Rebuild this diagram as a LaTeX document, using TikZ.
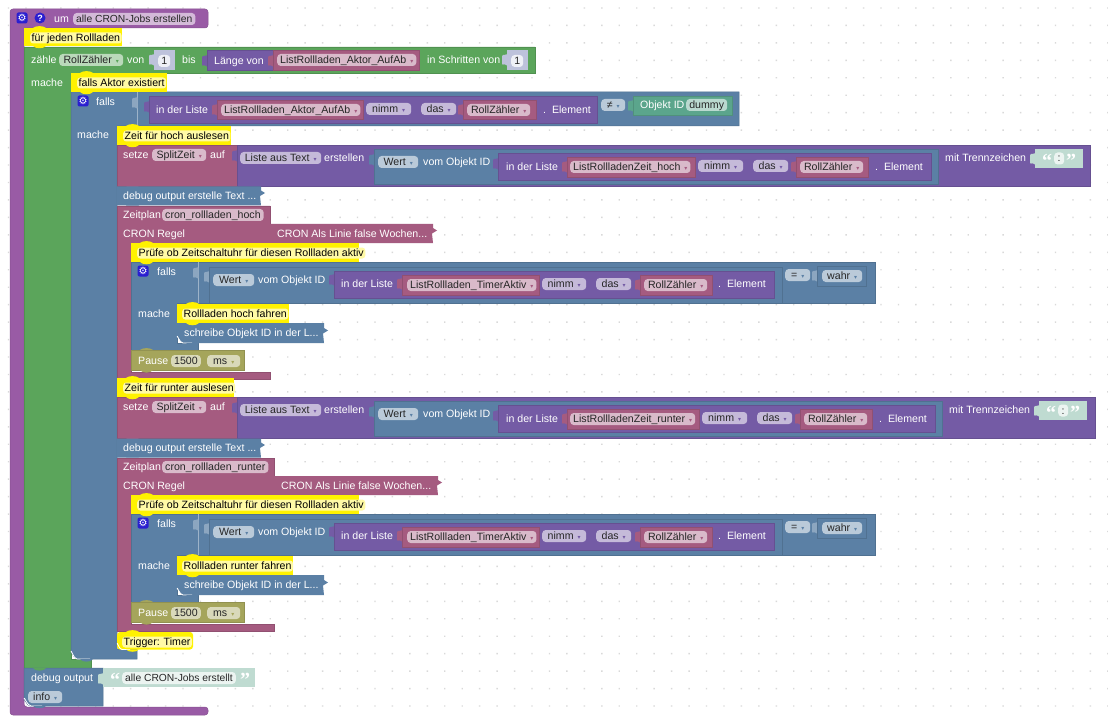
\documentclass[tikz,border=0pt]{standalone}
\usepackage{fontspec}
\setmainfont{Liberation Sans}
\newfontfamily\symfont{DejaVu Sans}
\newfontfamily\quotefont{Liberation Serif}
\definecolor{fnpurple}{HTML}{995BA5}
\definecolor{loopgreen}{HTML}{5BA55B}
\definecolor{logicblue}{HTML}{5B80A5}
\definecolor{listviolet}{HTML}{745BA5}
\definecolor{varred}{HTML}{A55B80}
\definecolor{idgreen}{HTML}{5BA58C}
\definecolor{pauseolive}{HTML}{A5A55B}
\definecolor{mathgrey}{HTML}{BDC2DB}
\definecolor{strgreen}{HTML}{BFDBD1}
\definecolor{iconblue}{HTML}{2A1FD0}
\newcommand{\arr}{{\symfont\fontsize{6}{6}\selectfont\hspace{4pt}\textcolor{\pc}{▾}}}
\newcommand{\notch}[4]{\fill[#4] (#1+9,#2) .. controls (#1+11,#2+#3) and (#1+20,#2+#3) .. (#1+22,#2);}
\newcommand{\vtab}[3]{\fill[#3,rounded corners=1pt] (#1+0.5,#2) -- (#1-2.5,#2+1) -- (#1-5,#2+1) -- (#1-5,#2+11) -- (#1-2.5,#2+10) -- (#1+0.5,#2+12) -- cycle;}
\newcommand{\jag}[2]{(#1-3,#2) -- (#1-3,#2+4) -- (#1+1,#2+6.5) -- (#1-4,#2+9.5) -- (#1-3,#2+19)}
\tikzset{
 block/.style={fill=#1,draw=#1!88!black,line width=.5pt},
 note/.style={fill=yellow},
 hilite/.style={draw=white,line width=.8pt},
 lbl/.style={anchor=west,inner sep=0pt,text=white,text height=9pt,text depth=2pt},
 pill/.style={anchor=west,inner xsep=3pt,inner ysep=.5pt,text=black!85,fill=#1!42!white,
  rounded corners=3.5pt,text height=9pt,text depth=2pt,execute at begin node={\def\pc{#1}}},
 rollz/.style={pill=varred,minimum width=63pt},
 nimmf/.style={pill=listviolet,minimum width=45pt},
 dasf/.style={pill=listviolet,minimum width=35pt},
 wertf/.style={pill=logicblue,minimum width=40pt},
 quot/.style={anchor=west,inner sep=0pt,text=white,font=\quotefont\bfseries\fontsize{20}{20}\selectfont},
 notetext/.style={anchor=west,inner xsep=1.5pt,inner ysep=0pt,text=black,fill=yellow!35!white,
  rounded corners=3pt,text height=9pt,text depth=2pt},
 icon/.style={fill=iconblue,text=white,inner sep=0pt,rounded corners=2pt,minimum size=11pt}
}
\begin{document}
\begin{tikzpicture}[
 x=1pt,y=-1pt,
 every node/.style={font=\fontsize{10.6}{13}\selectfont}
]
 \useasboundingbox (0,0) rectangle (1108,722);
 \fill[white] (0,0) rectangle (1108,722);
 % workspace dots
 \fill[black!15] foreach \i in {0,...,63} { foreach \j in {0,...,41}
  { (8.5+17.45*\i-.7,8+17.45*\j-.7) rectangle ++(1.4,1.4) } };

 % outer function block
 \draw[block=fnpurple,rounded corners=3pt] (10,9) -- (208,9) -- (208,28) -- (24,28) -- (24,707)
  -- (208,707) -- (208,715) -- (10,715) -- cycle;
 \node[icon] (gearFn) at (22,18) {\symfont\fontsize{10}{10}\selectfont ⚙};
 \node[icon,circle] (helpFn) at (40,18) {\bfseries\fontsize{9}{9}\selectfont ?};
 \node[lbl] (umLbl) at (54,19) {um};
 \node[pill=fnpurple,minimum width=121pt,font=\fontsize{10.3}{13}\selectfont] (umName) at (73,19) {alle CRON-Jobs erstellen};

 % counting loop
 \draw[block=loopgreen] (24,47) -- (535,47) -- (535,73) -- (71,73) -- (71,659) -- (91,659)
  -- (91,668) -- (24,668) -- cycle;
 \node[lbl] (zaehleLbl) at (31,60) {zähle};
 \node[pill=loopgreen,minimum width=64pt] (zaehleVar) at (59,60) {RollZähler\arr};
 \node[lbl] (vonLbl) at (127,60) {von};
 \vtab{154}{54}{mathgrey}
 \fill[mathgrey] (154,50) rectangle (175,70);
 \node[pill=white,fill=white!75!mathgrey,minimum width=12pt] (vonNum) at (158,61) {1};
 \node[lbl] (bisLbl) at (182,60) {bis};
 \vtab{207}{55}{listviolet}
 \draw[block=listviolet] (207,50) rectangle (273,70);
 \node[lbl] (laengeLbl) at (214,61) {Länge von};
 \vtab{273}{55}{varred}
 \draw[block=varred] (273,50) rectangle (419,70);
 \node[pill=varred,minimum width=137pt] (laengeVar) at (277,60) {ListRollladen\_Aktor\_AufAb\arr};
 \node[lbl] (schritteLbl) at (427,60) {in Schritten von};
 \vtab{507}{54}{mathgrey}
 \fill[mathgrey] (507,50) rectangle (528,70);
 \node[pill=white,fill=white!75!mathgrey,minimum width=12pt] (schritteNum) at (511,61) {1};
 \node[lbl] (macheOuter) at (31,83) {mache};

 % falls Aktor existiert
 \draw[block=logicblue,rounded corners=0pt] (71,92) -- (739,92) -- (739,126) -- (117,126)
  -- (117,649) -- (137,649) -- (137,659) -- (77,659) to[out=180,in=90] (71,653) -- cycle;
 \draw[hilite] (71,652) to[out=90,in=180] (77,659) -- (90,659);
 \notch{71}{659}{3.5}{logicblue}
 \draw[logicblue!60!white,line width=.6pt] (137,92) -- (137,126);
 \vtab{137}{97}{logicblue!70!white}
 \node[icon] (gearIf) at (83,101) {\symfont\fontsize{10}{10}\selectfont ⚙};
 \node[lbl] (fallsTop) at (96,102) {falls};
 \node[lbl] (macheTop) at (77,135) {mache};
 \vtab{149}{101}{listviolet}
 \draw[block=listviolet] (149,96) rectangle (597,123);
 \node[lbl] (listeTop) at (156,110) {in der Liste};
 \vtab{217}{104}{varred}
 \draw[block=varred] (217,100) rectangle (363,119);
 \node[pill=varred,minimum width=137pt] (listTop) at (221,110) {ListRollladen\_Aktor\_AufAb\arr};
 \node[nimmf] (nimmTop) at (366,109) {nimm\arr};
 \node[dasf] (dasTop) at (421,109) {das\arr};
 \vtab{463}{104}{varred}
 \draw[block=varred] (463,100) rectangle (536,119);
 \node[rollz] (rollTop) at (467,110) {RollZähler\arr};
 \node[lbl] (elemTop) at (543,110) {.\ \ Element};
 \node[pill=logicblue,minimum width=24pt] (neqTop) at (601,105) {≠\arr};
 \vtab{633}{100}{idgreen}
 \draw[block=idgreen] (633,96) rectangle (732,115);
 \node[lbl] (objTop) at (640,105) {Objekt ID};
 \node[pill=idgreen,minimum width=41pt] (dummyTop) at (686,105) {dummy};

 \foreach \sec/\dy/\xa/\fahrt in {hoch/0/0/hoch,runter/252/4/runter} {
 \begin{scope}[shift={(0,\dy)}]
  % split time
  \draw[block=varred] (117,145) rectangle (237,186.5);
  \node[lbl] (setze\sec) at (123,155) {setze};
  \node[pill=varred,minimum width=54pt] (split\sec) at (152,155) {SplitZeit\arr};
  \node[lbl] (auf\sec) at (210,155) {auf};
  \vtab{237}{150}{listviolet}
  \draw[block=listviolet] (237,145) rectangle (1090+\xa+\xa/4,186.5);
  \node[pill=listviolet,minimum width=81pt] (teil\sec) at (240,158) {Liste aus Text\arr};
  \node[lbl] (erst\sec) at (324,158) {erstellen};
  \vtab{374}{154}{logicblue}
  \draw[block=logicblue] (374,149) rectangle (938+\xa,184);
  \node[wertf] (wert\sec) at (378,162) {Wert\arr};
  \node[lbl] (vom\sec) at (423,162) {vom Objekt ID};
  \vtab{498}{158}{listviolet}
  \draw[block=listviolet] (498,153) rectangle (931+\xa,180);
  \node[lbl] (liste\sec) at (506,167) {in der Liste};
  \vtab{567}{161}{varred}
  \draw[block=varred] (567,157) rectangle (695+\xa,177);
  \node[pill=varred,minimum width={120+\xa}] (list\sec) at (570,167) {ListRollladenZeit\_\fahrt\arr};
  \node[nimmf] (nimm\sec) at (698+\xa,166) {nimm\arr};
  \node[dasf] (das\sec) at (753+\xa,166) {das\arr};
  \vtab{796+\xa}{161}{varred}
  \draw[block=varred] (796+\xa,157) rectangle (868+\xa,177);
  \node[rollz] (roll\sec) at (800+\xa,167) {RollZähler\arr};
  \node[lbl] (elem\sec) at (875+\xa,167) {.\ \ Element};
  \node[lbl] (mit\sec) at (945+\xa,158) {mit Trennzeichen};
  \vtab{1035+\xa}{153}{strgreen}
  \fill[strgreen] (1035+\xa,149) rectangle (1083+\xa,168);
  \node[quot] (qa\sec) at (1042+\xa,161) {“};
  \node[pill=white,fill=white!70!strgreen,minimum width=10pt,inner xsep=1pt] (colon\sec) at (1054+\xa,158.5) {:};
  \node[quot] (qb\sec) at (1066+\xa,161) {”};
  \notch{117}{186}{3.5}{varred}

  % collapsed debug block
  \fill[logicblue] (117,186.5) -- (260,186.5) -- \jag{264}{186.5} -- (117,205.5) -- cycle;
  \node[lbl] (debug\sec) at (123,196) {debug output erstelle Text ...};
  \notch{117}{205.5}{3.5}{logicblue}

  % schedule block
  \draw[block=varred] (117,206) -- (270+\xa,206) -- (270+\xa,243) -- (131,243) -- (131,372)
   -- (270+\xa,372) -- (270+\xa,379) -- (117,379) -- cycle;
  \node[lbl] (zeitplan\sec) at (123,215) {Zeitplan};
  \node[pill=varred,minimum width={100+\xa}] (cron\sec) at (162,215) {cron\_rollladen\_\fahrt};
  \node[lbl] (regel\sec) at (123,234) {CRON Regel};
  \vtab{270+\xa}{228}{varred}
  \fill[varred] (270+\xa,224) -- (433+\xa+\xa/4,224) -- \jag{436+\xa+\xa/4}{224} -- (270+\xa,243) -- cycle;
  \node[lbl] (regelWert\sec) at (277+\xa,234) {CRON Als Linie false Wochen...};

  % timer active check
  \draw[block=logicblue] (131,262) -- (875,262) -- (875,303) -- (177,303) -- (177,343) -- (198,343)
   -- (198,350) -- (131,350) -- cycle;
  \draw[logicblue!60!white,line width=.6pt] (198,262) -- (198,303);
  \vtab{198}{267}{logicblue!70!white}
  \node[icon] (gearCheck\sec) at (143,271) {\symfont\fontsize{10}{10}\selectfont ⚙};
  \node[lbl] (falls\sec) at (157,272) {falls};
  \node[lbl] (mache\sec) at (138,314) {mache};
  \vtab{209}{271}{logicblue!70!white}
  \draw[block=logicblue] (209,267) rectangle (782,303);
  \node[wertf,minimum width=41pt] (wertB\sec) at (213,280) {Wert\arr};
  \node[lbl] (vomB\sec) at (258,280) {vom Objekt ID};
  \vtab{334}{274}{listviolet}
  \draw[block=listviolet] (334,271) rectangle (774,298);
  \node[lbl] (listeB\sec) at (341,284) {in der Liste};
  \vtab{402}{278}{varred}
  \draw[block=varred] (402,275) rectangle (539,295);
  \node[pill=varred,minimum width=128pt] (listB\sec) at (407,285) {ListRollladen\_TimerAktiv\arr};
  \node[nimmf,minimum width=44pt] (nimmB\sec) at (542,284) {nimm\arr};
  \node[dasf] (dasB\sec) at (596,284) {das\arr};
  \vtab{640}{279}{varred}
  \draw[block=varred] (640,275) rectangle (712,295);
  \node[rollz] (rollB\sec) at (644,285) {RollZähler\arr};
  \node[lbl] (elemB\sec) at (718,284) {.\ \ Element};
  \node[pill=logicblue,minimum width=25pt] (eqB\sec) at (785,275) {=\arr};
  \vtab{817}{270}{logicblue!70!white}
  \draw[block=logicblue] (817,266) rectangle (866,286);
  \node[pill=logicblue,minimum width=40pt] (wahrB\sec) at (822,276) {wahr\arr};

  % Aktion
  \fill[logicblue] (177,323) -- (324,323) -- \jag{327}{324} -- (183,343) to[out=180,in=90] (177,337) -- cycle;
  \draw[hilite] (177,337) to[out=90,in=180] (183,343) -- (192,343);
  \node[lbl] (schreibe\sec) at (184,333) {schreibe Objekt ID in der L...};
  \notch{177}{343}{3.5}{logicblue}
  \fill[note] (177,304) rectangle (289+\xa,323);
  \notch{177}{304}{-2.5}{yellow}
  \notch{177}{323}{3}{yellow}
  \node[notetext] (fahr\sec) at (182,314) {Rollladen \fahrt{} fahren};

  % Pause
  \draw[block=pauseolive] (131,350) rectangle (244,370);
  \notch{131}{350}{-2.5}{pauseolive}
  \notch{131}{370}{3.5}{pauseolive}
  \node[lbl] (pause\sec) at (138,361) {Pause};
  \node[pill=pauseolive,minimum width=28pt] (ms\sec) at (171,361) {1500};
  \node[pill=pauseolive,minimum width=33pt] (unit\sec) at (207,361) {ms\arr};

  % yellow notes of this part
  \fill[note] (131,243) rectangle (359,262);
  \notch{131}{243}{-2.5}{yellow}
  \notch{131}{262}{3}{yellow}
  \node[notetext] (pruef\sec) at (137,253) {Prüfe ob Zeitschaltuhr für diesen Rollladen aktiv};
  \notch{117}{379}{3.5}{varred}
 \end{scope}
 }

 % yellow notes
 \fill[note] (24,28) rectangle (122,46);
 \notch{24}{28}{-2.5}{yellow}
 \notch{24}{46}{3}{yellow}
 \node[notetext] (noteEach) at (30,38) {für jeden Rollladen};
 \fill[note] (71,73) rectangle (167,92);
 \notch{71}{73}{-2.5}{yellow}
 \notch{71}{92}{3}{yellow}
 \node[notetext] (noteAktor) at (77,83) {falls Aktor existiert};
 \fill[note] (117,126) rectangle (231,145);
 \notch{117}{126}{-2.5}{yellow}
 \notch{117}{145}{3}{yellow}
 \node[notetext] (noteHoch) at (123,136) {Zeit für hoch auslesen};
 \fill[note] (117,378) rectangle (234,397);
 \notch{117}{378}{-2.5}{yellow}
 \notch{117}{397}{3}{yellow}
 \node[notetext] (noteRunter) at (123,388) {Zeit für runter auslesen};
 \fill[note,rounded corners=3pt] (117,632) -- (193,632) -- (193,649.5) -- (117,649.5) -- cycle;
 \draw[hilite] (117,644) to[out=90,in=180] (122,649.5) -- (130,649.5);
 \notch{117}{632}{-2.5}{yellow}
 \notch{117}{649.5}{3}{yellow}
 \node[notetext] (noteTrigger) at (122,642) {Trigger: Timer};

 % final debug output
 \draw[block=logicblue] (24,668) -- (103,668) -- (103,706) -- (30,706) to[out=180,in=90] (24,700) -- cycle;
 \draw[hilite] (24,699) to[out=90,in=180] (31,706) -- (42,706);
 \notch{24}{668}{3.5}{loopgreen}
 \notch{24}{706}{3}{logicblue}
 \node[lbl] (debugEnd) at (31,678) {debug output};
 \node[pill=logicblue,minimum width=34pt] (infoEnd) at (28,697) {info\arr};
 \vtab{103}{673}{strgreen}
 \fill[strgreen] (103,668) rectangle (255,687);
 \node[quot] (qaEnd) at (110,680) {“};
 \node[pill=white,fill=white!70!strgreen,font=\fontsize{10.3}{13}\selectfont] (msgEnd) at (122,678) {alle CRON-Jobs erstellt};
 \node[quot] (qbEnd) at (240,680) {”};
\end{tikzpicture}
\end{document}
